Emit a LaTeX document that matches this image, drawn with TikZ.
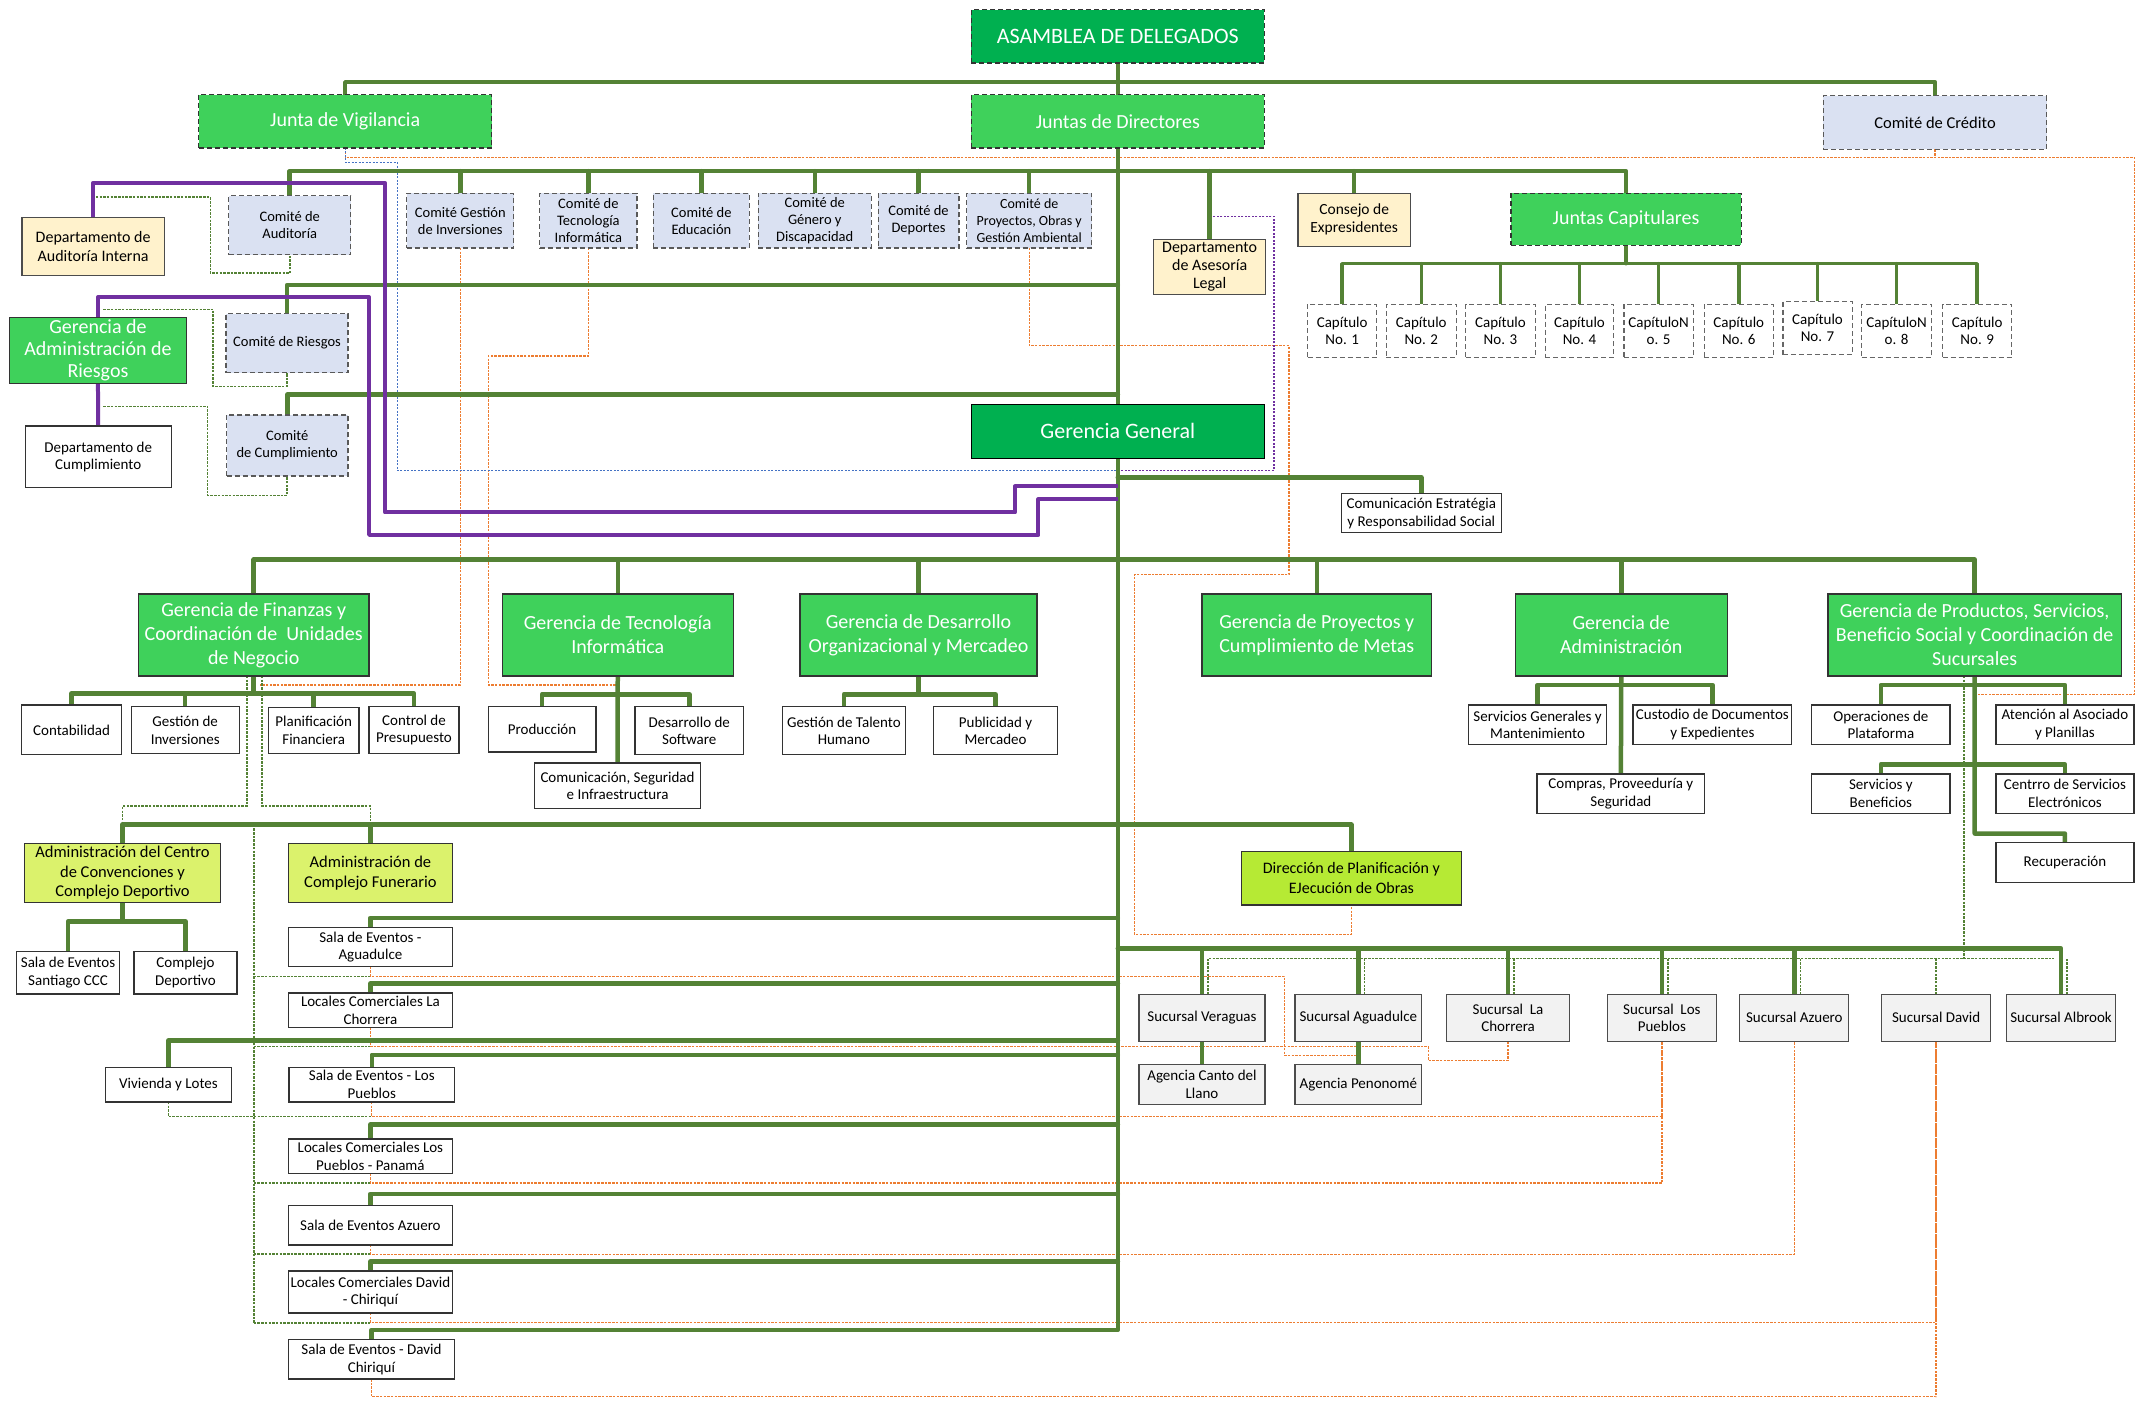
\documentclass[tikz,border=0pt]{standalone}
\usepackage{fontspec}
\setmainfont{Carlito}
\usetikzlibrary{calc}
\definecolor{cDark}{HTML}{00B050}
\definecolor{cMid}{HTML}{3FD15B}
\definecolor{cBlue}{HTML}{DAE1F2}
\definecolor{cCream}{HTML}{FFF2CC}
\definecolor{cLimeL}{HTML}{DBF26C}
\definecolor{cLime}{HTML}{B6EA34}
\definecolor{cLine}{HTML}{548235}
\definecolor{cPur}{HTML}{7030A0}
\definecolor{cOr}{HTML}{ED7D31}
\definecolor{cBl}{HTML}{4472C4}
\definecolor{cSuc}{HTML}{F2F2F2}
\pgfdeclarelayer{bg}\pgfsetlayers{bg,main}
\newcommand\bx[7]{%
 \pgfmathsetmacro\bxw{(#4-#2)*1.37}%
 \pgfmathsetmacro\bxh{(#5-#3)*1.37}%
 \node[#6, minimum width=\bxw pt, minimum height=\bxh pt] (#1) at ({(#2+#4)/2},{(#3+#5)/2}) {#7};}
\tikzset{
 box/.style={rectangle, align=center, inner sep=0pt, outer sep=0pt, line width=1.2pt},
 fbig/.style={font=\fontsize{20}{24}\selectfont},
 fger/.style={font=\fontsize{20}{24}\selectfont},
 fsm/.style={font=\fontsize{15}{17.5}\selectfont},
 fcom/.style={font=\fontsize{14.5}{17}\selectfont},
 topdark/.style={box, fill=cDark, draw=black!80, dash pattern=on 5pt off 3pt, text=white, font=\fontsize{22}{26}\selectfont},
 topmid/.style={box, fill=cMid, draw=black!80, dash pattern=on 5pt off 3pt, text=white, fbig},
 ger/.style={box, fill=cMid, draw=black!80, text=white, fger},
 gendark/.style={box, fill=cDark, draw=black, text=white, font=\fontsize{22}{26}\selectfont},
 comite/.style={box, fill=cBlue, draw=black!65, dash pattern=on 5pt off 3pt, fcom},
 cream/.style={box, fill=cCream, draw=black!70, fsm},
 unit/.style={box, fill=white, draw=black!80, fsm},
 capbox/.style={box, fill=white, draw=black!60, dash pattern=on 5pt off 3pt, font=\fontsize{15}{17.5}\selectfont},
 limel/.style={box, fill=cLimeL, draw=black!80, font=\fontsize{16.5}{19.4}\selectfont},
 lime/.style={box, fill=cLime, draw=black!80, font=\fontsize{16}{19.5}\selectfont},
 suc/.style={box, fill=cSuc, draw=black!70, fsm},
 gl/.style={draw=cLine, line width=4.5pt, line join=round, line cap=round},
 glt/.style={gl, line width=3.5pt},
 pl/.style={draw=cPur, line width=4pt, line join=round},
 gd/.style={draw=cLine, line width=1.6pt, dash pattern=on 2.5pt off 1.2pt},
 od/.style={draw=cOr, line width=1.4pt, dash pattern=on 2.5pt off 1.2pt},
 bd/.style={draw=cBl, line width=1.4pt, dash pattern=on 2pt off 1.5pt},
 pd/.style={draw=cPur, line width=1.6pt, dash pattern=on 2pt off 1.5pt},
}
\begin{document}
\begin{tikzpicture}[x=1.37pt, y=-1.37pt]
\useasboundingbox (0,0) rectangle (1568,1026);
% ---- top
\bx{asam}{709}{7}{923}{46}{topdark}{ASAMBLEA DE DELEGADOS}
\bx{jv}{145}{69}{359}{108}{topmid}{Junta de Vigilancia}
\bx{dir}{709}{69}{923}{108}{topmid}{Juntas de Directores}
\bx{cred}{1331}{70}{1494}{109}{comite,font=\fontsize{16.5}{19}\selectfont}{Comité de Crédito}
% ---- committees
\bx{dai}{16}{159}{120}{201}{cream,font=\fontsize{16}{19.5}\selectfont}{Departamento de\\Auditoría Interna}
\bx{caud}{167}{143}{256}{186}{comite}{Comité de\\Auditoría}
\bx{cgi}{297}{141}{375}{181}{comite}{Comité Gestión\\de Inversiones}
\bx{cti}{394}{141}{465}{181}{comite}{Comité de\\Tecnología\\Informática}
\bx{ced}{477}{141}{547}{181}{comite}{Comité de\\Educación}
\bx{cgd}{553.5}{141}{636}{181}{comite}{Comité de\\Género y\\Discapacidad}
\bx{cdep}{641}{141}{700}{181}{comite}{Comité de\\Deportes}
\bx{cpro}{705.6}{141}{797}{181}{comite,font=\fontsize{14}{17}\selectfont}{Comité de\\Proyectos, Obras y\\Gestión Ambiental}
\bx{legal}{842}{175}{924}{215}{cream,font=\fontsize{16}{18}\selectfont}{Departamento\\de Asesoría\\Legal}
\bx{consejo}{947.5}{141}{1029.6}{180}{cream,font=\fontsize{15.5}{18}\selectfont}{Consejo de\\Expresidentes}
\bx{jcap}{1103}{141}{1271}{179}{topmid}{Juntas Capitulares}
\bx{cap1}{954.5}{222}{1005}{261}{capbox}{Capítulo\\No. 1}
\bx{cap2}{1012}{222}{1063}{261}{capbox}{Capítulo\\No. 2}
\bx{cap3}{1070}{222}{1120.6}{261}{capbox}{Capítulo\\No. 3}
\bx{cap4}{1128}{222}{1178}{261}{capbox}{Capítulo\\No. 4}
\bx{cap5}{1185.5}{222}{1236}{261}{capbox}{CapítuloN\\o. 5}
\bx{cap6}{1244}{222}{1294.5}{261}{capbox}{Capítulo\\No. 6}
\bx{cap7}{1301.5}{220}{1352}{259}{capbox}{Capítulo\\No. 7}
\bx{cap8}{1359}{222}{1410}{261}{capbox}{CapítuloN\\o. 8}
\bx{cap9}{1418}{222}{1468.6}{261}{capbox}{Capítulo\\No. 9}
% ---- left side
\bx{gar}{7}{231.5}{136}{280}{ger,font=\fontsize{20}{22}\selectfont}{Gerencia de\\Administración de\\Riesgos}
\bx{crie}{165}{229}{254}{272}{comite}{Comité de Riesgos}
\bx{ccum}{165.4}{303}{254}{347.5}{comite}{Comité\\de Cumplimiento}
\bx{dcum}{18.4}{311}{125}{356}{unit}{Departamento de\\Cumplimiento}
\bx{gg}{709}{295}{923}{334.5}{gendark}{Gerencia General}
\bx{ces}{979}{360.5}{1096}{389}{unit}{Comunicación Estratégia\\y Responsabilidad Social}
% ---- gerencias
\bx{gfin}{101}{433.6}{269.4}{493.4}{ger}{Gerencia de Finanzas y\\Coordinación de~ Unidades\\de Negocio}
\bx{gti}{366.6}{433.6}{535.3}{493.4}{ger}{Gerencia de Tecnología\\Informática}
\bx{gdo}{584}{433.6}{757}{493.4}{ger}{Gerencia de Desarrollo\\Organizacional y Mercadeo}
\bx{gpc}{877.4}{433.6}{1045}{493.4}{ger}{Gerencia de Proyectos y\\Cumplimiento de Metas}
\bx{gadm}{1106}{433.6}{1261}{493.4}{ger}{Gerencia de\\Administración}
\bx{gprod}{1334.4}{433.6}{1548.5}{493.4}{ger}{Gerencia de Productos, Servicios,\\Beneficio Social y Coordinación de\\Sucursales}
% ---- units
\bx{cont}{15.9}{514.7}{88.6}{551}{unit}{Contabilidad}
\bx{ginv}{95.8}{516}{174.6}{550}{unit}{Gestión de\\Inversiones}
\bx{pfin}{196}{516.6}{262}{550}{unit}{Planificación\\Financiera}
\bx{cpre}{269.4}{516}{335}{550}{unit}{Control de\\Presupuesto}
\bx{prod}{356.4}{515.6}{435}{549}{unit}{Producción}
\bx{dsw}{463.5}{516}{542.8}{551}{unit}{Desarrollo de\\Software}
\bx{csi}{390}{557}{511.6}{590}{unit}{Comunicación, Seguridad\\e Infraestructura}
\bx{gth}{571}{516}{661}{551}{unit}{Gestión de Talento\\Humano}
\bx{pym}{681.5}{516}{772}{551}{unit}{Publicidad y\\Mercadeo}
\bx{sgm}{1072}{514.6}{1172.8}{543.5}{unit}{Servicios Generales y\\Mantenimiento}
\bx{cde}{1192}{514.6}{1308}{543.5}{unit}{Custodio de Documentos\\y Expedientes}
\bx{cps}{1122}{565}{1244.4}{593.6}{unit}{Compras, Proveeduría y\\Seguridad}
\bx{opl}{1322.6}{514.6}{1423.4}{543.5}{unit}{Operaciones de\\Plataforma}
\bx{aap}{1457}{514.6}{1557.7}{543.5}{unit}{Atención al Asociado\\y Planillas}
\bx{syb}{1322.6}{565}{1423.4}{593.6}{unit}{Servicios y\\Beneficios}
\bx{cse}{1457}{565}{1557.7}{593.6}{unit}{Centrro de Servicios\\Electrónicos}
\bx{rec}{1457}{615}{1557.7}{644}{unit}{Recuperación}
% ---- lower left
\bx{acc}{18}{616}{160.8}{658.6}{limel}{Administración del Centro\\de Convenciones y\\Complejo Deportivo}
\bx{acf}{210.5}{616}{330.3}{658.6}{limel}{Administración de\\Complejo Funerario}
\bx{dpo}{906}{621.5}{1067}{660.6}{lime}{Dirección de Planificación y\\EJecución de Obras}
\bx{sscc}{12.3}{694.5}{87}{725.6}{unit}{Sala de Eventos\\Santiago CCC}
\bx{cdep2}{97.8}{694.5}{173}{725.6}{unit}{Complejo\\Deportivo}
\bx{sea}{210.5}{677}{330.3}{705.7}{unit}{Sala de Eventos -\\Aguadulce}
\bx{lcc}{210.5}{724.8}{330.3}{750}{unit}{Locales Comerciales La\\Chorrera}
\bx{vyl}{77}{779}{169}{804.4}{unit}{Vivienda y Lotes}
\bx{selp}{211}{779}{331.8}{804.4}{unit}{Sala de Eventos - Los\\Pueblos}
\bx{lclp}{210.5}{831.5}{330.3}{856.5}{unit}{Locales Comerciales Los\\Pueblos - Panamá}
\bx{sez}{210.5}{880}{330.3}{908.8}{unit}{Sala de Eventos Azuero}
\bx{lcd}{210.5}{927.8}{330.3}{958.4}{unit}{Locales Comerciales David\\- Chiriquí}
\bx{sed}{210.5}{977.8}{331.8}{1006.7}{unit}{Sala de Eventos - David\\Chiriquí}
% ---- sucursales
\bx{sver}{831.4}{726}{923.4}{760}{suc}{Sucursal Veraguas}
\bx{sagu}{945.3}{726}{1037.8}{760}{suc}{Sucursal Aguadulce}
\bx{slch}{1056}{726}{1145.7}{760}{suc}{Sucursal~ La\\Chorrera}
\bx{slp}{1173.3}{726}{1253}{760}{suc}{Sucursal~ Los\\Pueblos}
\bx{saz}{1270}{726}{1349.6}{760}{suc}{Sucursal Azuero}
\bx{sdav}{1373.7}{726}{1452.9}{760}{suc}{Sucursal David}
\bx{salb}{1464.7}{726}{1544.4}{760}{suc}{Sucursal Albrook}
\bx{acl}{831.4}{777}{923.4}{806}{suc}{Agencia Canto del\\Llano}
\bx{apen}{945.3}{777}{1037.8}{806}{suc}{Agencia Penonomé}
% ---- bus levels
\coordinate (yTop) at (816,60);
\coordinate (yCom) at (816,125);
\coordinate (yRie) at (816,208);
\coordinate (yCum) at (816,288);
\coordinate (yCap) at (1187,192.5);
\coordinate (yCes) at (816,348.5);
\coordinate (yGer) at (816,408.5);
\coordinate (yFin) at (185.2,506.3);
\coordinate (yTec) at (451,506.8);
\coordinate (yDes) at (670.5,506.8);
\coordinate (yAdm) at (1183.5,500);
\coordinate (yPr1) at (1441.5,500);
\coordinate (yPr2) at (1441.5,558);
\coordinate (yPr3) at (1441.5,608.5);
\coordinate (yUni) at (816,602);
\coordinate (yAcc) at (89.4,672.6);
\coordinate (ySea) at (816,670);
\coordinate (yLcc) at (816,718);
\coordinate (yVyl) at (816,759.4);
\coordinate (ySelp) at (816,770);
\coordinate (yLclp) at (816,821);
\coordinate (ySez) at (816,871.5);
\coordinate (yLcd) at (816,921);
\coordinate (ySed) at (816,970.8);
\coordinate (ySuc) at (816,692.5);
\coordinate (yDS) at (1000,699.8);
\begin{pgfonlayer}{bg}
\fill[white] (0,0) rectangle (1568,1026);
% ---- orange dotted
\draw[od] (jv.south) -- (jv.south |- 0,115) -- (1558,115) |- ($(gprod.south |- 0,507)+(2,0)$);
\draw[od] (cred.south) -- (cred.south |- 0,115);
\draw[od] (cgi.south) |- (189.5,500);
\draw[od] (cti.south) |- (356.4,260) |- (gti.south |- 0,500);
\draw[od] (cpro.south) |- (941,252.4) |- (828,419.5) |- (dpo.south |- 0,682) -- (dpo.south);
\draw[od] (sea.south) |- (937.7,712.7) |- (sagu.south |- 0,770.6) -- (sagu.south);
\draw[od] (lcc.south) |- (1042.6,763.8) |- (slch.south |- 0,774.2) -- (slch.south);
\draw[od] (selp.south) -- (selp.south |- 0,815) -| (slp.south);
\draw[od] (lclp.south) -- (lclp.south |- 0,863.7) -| (slp.south);
\draw[od] (sez.south) -- (sez.south |- 0,915.6) -| (saz.south);
\draw[od] (lcd.south) -- (lcd.south |- 0,965.6) -| (sdav.south);
\draw[od] (sed.south) -- (sed.south |- 0,1019.5) -| (sdav.south);
% ---- blue / purple dotted
\draw[bd] (jv.south) -- (jv.south |- 0,118.6) -| (290,343.6) -- (gg.south |- 0,343.6);
\draw[pd] (gg.south |- 0,343.6) -| (930,158) -- (legal.north |- 0,158);
% ---- green dashed
\draw[gd] ($(dai.north |- 0,144)+(2,0)$) -| (153.6,199.5) -| (caud.south);
\draw[gd] ($(gar.north |- 0,226)+(4,0)$) -| (155.7,282) -| (crie.south);
\draw[gd] ($(gar.south |- 0,296.6)+(4,0)$) -| (151.6,361.6) -| (ccum.south);
\draw[gd] ($(gfin.south)+(-5,0)$) |- (acc.north |- 0,588.4) -- (acc.north |- yUni);
\draw[gd] ($(gfin.south)+(6,0)$) |- (acf.north |- 0,588.4) -- (acf.north |- yUni);
\draw[gd] (gfin.south |- yUni) -- (gfin.south |- 0,965.6);
\foreach \n/\yy in {sea/712.7, lcc/763.8, lclp/863.7, sez/915.6, lcd/965.6}
  \draw[gd] (gfin.south |- 0,\yy) -- (\n.south |- 0,\yy);
\draw[gd] (vyl.south) |- (selp.south |- 0,815);
\draw[gd] ($(gprod.south)+(-8,0)$) -- ($(gprod.south |- yDS)+(-8,0)$);
\draw[gd] (882.5,699.8) -- (1499,699.8);
\foreach \n in {sver,sagu,slch,slp,saz,salb} {
  \coordinate (tt) at ([xshift=6pt]\n.north);
  \draw[gd] (tt) -- (tt |- yDS);
}
\draw[gd] (sdav.north) -- (sdav.north |- yDS);
% ---- green solid
\draw[gl] (asam.south) -- (dir.north);
\draw[gl] (jv.north) |- (yTop) -| (cred.north);
\draw[gl] (dir.south) -- (gg.north);
\draw[gl] (caud.north) |- (yCom) -| (jcap.north);
\foreach \n in {cgi,cti,ced,cgd,cdep,cpro,legal,consejo}
  \draw[gl] (\n.north) -- (\n.north |- yCom);
\draw[gl] (crie.north) |- (yRie);
\draw[gl] (ccum.north) |- (yCum);
\draw[glt] (jcap.south) -- (yCap);
\draw[glt] (cap1.north) |- (yCap) -| (cap9.north);
\foreach \n in {2,...,8}
  \draw[glt] (cap\n.north) -- (cap\n.north |- yCap);
\draw[gl] (gg.south) -- (ySed) -| (sed.north);
\draw[gl] (yCes) -| (ces.north);
\draw[gl] (gfin.north) |- (yGer) -| (gprod.north);
\foreach \n in {gti,gdo,gpc,gadm}
  \draw[gl] (\n.north) -- (\n.north |- yGer);
\draw[gl] (gfin.south) -- (yFin);
\draw[gl] (cont.north) |- (yFin) -| (cpre.north);
\foreach \n in {ginv,pfin}
  \draw[gl] (\n.north) -- (\n.north |- yFin);
\draw[gl] (gti.south) -- (csi.north);
\draw[gl] (prod.north) |- (yTec) -| (dsw.north);
\draw[gl] (gdo.south) -- (yDes);
\draw[gl] (gth.north) |- (yDes) -| (pym.north);
\draw[gl] (gadm.south) -- (cps.north);
\draw[gl] (sgm.north) |- (yAdm) -| (cde.north);
\draw[gl] (gprod.south) -- (yPr3) -| (rec.north);
\draw[gl] (opl.north) |- (yPr1) -| (aap.north);
\draw[gl] (syb.north) |- (yPr2) -| (cse.north);
\draw[gl] (acc.north) |- (yUni) -| (dpo.north);
\draw[gl] (acf.north) -- (acf.north |- yUni);
\draw[gl] (acc.south) -- (yAcc);
\draw[gl] (sscc.north) |- (yAcc) -| (cdep2.north);
\foreach \n/\y in {sea/ySea, lcc/yLcc, vyl/yVyl, selp/ySelp, lclp/yLclp, sez/ySez, lcd/yLcd}
  \draw[gl] (\y) -| (\n.north);
\draw[gl] (ySuc) -| (salb.north);
\foreach \n in {sver,sagu,slch,slp,saz}
  \draw[gl] (\n.north) -- (\n.north |- ySuc);
\draw[gl] (sver.south) -- (acl.north);
\draw[gl] (sagu.south) -- (apen.north);
% ---- purple
\draw[pl] (dai.north) |- (281,133.5) |- (741,374) |- (gg.south |- 0,355);
\draw[pl] (gar.north) |- (269.4,217) |- (758,390.5) |- (gg.south |- 0,364.5);
\draw[pl] (gar.south) -- (dcum.north);
\end{pgfonlayer}
\end{tikzpicture}
\end{document}
